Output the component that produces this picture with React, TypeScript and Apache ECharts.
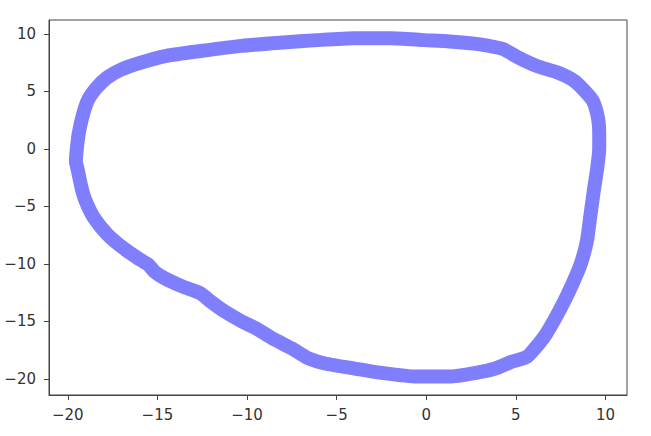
import React, { useEffect, useRef } from "react";
import * as echarts from "echarts";

const xs: number[] = [
  -19.5, -19.4, -19.2, -18.9, -18.4, -17.8, -17.0, -15.9, -14.5, -12.6, -10.3, -8.0, -6.1, -4.0,
  -1.95, -0.1, 1.3, 2.9, 4.3, 5.13, 6.17, 7.33, 8.26, 8.84, 9.3, 9.58, 9.65, 9.65, 9.54, 9.37,
  9.14, 8.96, 8.6, 8.14, 7.68, 7.1, 6.64, 6.06, 5.6, 4.78, 3.85, 2.7, 1.3, -0.56, -2.4, -4.0,
  -5.66, -6.6, -7.5, -8.56, -9.5, -10.3, -11.23, -12.0, -12.6, -13.55, -14.6, -15.17, -15.5,
  -16.1, -16.9, -17.77, -18.54, -19.0, -19.23, -19.47, -19.55, -19.5,
];
const ys: number[] = [
  0, 1.25, 2.7, 4.16, 5.3, 6.2, 6.9, 7.5, 8.08, 8.5, 8.95, 9.24, 9.45, 9.62,
  9.62, 9.45, 9.33, 9.1, 8.66, 7.94, 7.2, 6.63, 5.9, 5.03, 4.16, 2.7, 1.25, 0, -1.66, -3.4,
  -6.0, -8.05, -10.1, -11.8, -13.3, -15.0, -16.2, -17.35, -18.1, -18.5, -19.1, -19.5, -19.8, -19.8, -19.5, -19.1,
  -18.66, -18.2, -17.35, -16.5, -15.6, -15.0, -14.16, -13.3, -12.56, -12.0, -11.25, -10.67, -10.08,
  -9.5, -8.63, -7.47, -6.0, -4.56, -3.4, -1.66, -1.1, 0,
];
const xTicks: number[] = [-20, -15, -10, -5, 0, 5, 10];
const yTicks: number[] = [-20, -15, -10, -5, 0, 5, 10];

const fmt = (v: number) => String(v).replace("-", "\u2212");

export default function App() {
  const ref = useRef<HTMLDivElement>(null);
  useEffect(() => {
    if (!ref.current) return;
    const chart = echarts.init(ref.current, null, { renderer: "svg" });
    const labelStyle = {
      fontFamily: "DejaVu Sans",
      fontSize: 15,
      color: "#333",
      formatter: fmt,
    };
    chart.setOption({
      animation: false,
      backgroundColor: "#fff",
      grid: {
        left: 49,
        right: 24,
        top: 20,
        bottom: 41,
        show: true,
        borderColor: "#444",
        borderWidth: 1,
        backgroundColor: "transparent",
      },
      xAxis: {
        type: "value",
        min: -21.05,
        max: 11.2,
        axisLine: { show: true, onZero: false, lineStyle: { color: "#444", width: 1 } },
        axisTick: { show: true, length: 5, customValues: xTicks, lineStyle: { color: "#444" } },
        axisLabel: { ...labelStyle, margin: 12, customValues: xTicks, showMinLabel: true, showMaxLabel: true },
        splitLine: { show: false },
      },
      yAxis: {
        type: "value",
        min: -21.4,
        max: 11.2,
        axisLine: { show: true, onZero: false, lineStyle: { color: "#444", width: 1 } },
        axisTick: { show: true, length: 5, customValues: yTicks, lineStyle: { color: "#444" } },
        axisLabel: { ...labelStyle, margin: 13, customValues: yTicks, showMinLabel: true, showMaxLabel: true },
        splitLine: { show: false },
      },
      series: [
        {
          type: "line",
          data: xs.map((x, i) => [x, ys[i]]),
          showSymbol: false,
          symbol: "none",
          smooth: 0.2,
          lineStyle: { color: "#7f7ffd", width: 14, cap: "round", join: "round" },
        },
      ],
    });
    return () => chart.dispose();
  }, []);
  return (
    <div
      ref={ref}
      style={{ position: "fixed", left: 0, top: 0, width: 651, height: 436 }}
    />
  );
}
